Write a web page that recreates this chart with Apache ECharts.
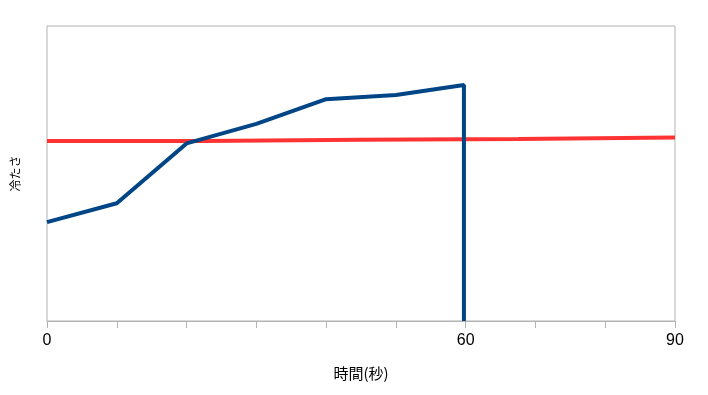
<!DOCTYPE html>
<html>
<head>
<meta charset="utf-8">
<script src="https://cdn.jsdelivr.net/npm/echarts@6/dist/echarts.min.js"></script>
<style>html,body{margin:0;padding:0;background:#fff}#c{width:708px;height:395px}</style>
</head>
<body>
<div id="c"></div>
<script>
// time (s) and "coldness" values
const blueX = [0, 10, 20, 30, 40, 50, 59.75, 59.75];
const blueY = [33.5, 39.9, 60.2, 66.8, 75.2, 76.6, 80.0, 0];
const redX = [0, 22.3, 45, 67.5, 90];
const redY = [61.0, 61.4, 61.7, 62.2, 62.2];
const xLabels = [0, 60, 90];

const chart = echarts.init(document.getElementById('c'));
chart.setOption({
  animation: false,
  backgroundColor: '#fff',
  grid: {left: 47, right: 33, top: 26, bottom: 74, show: true, borderColor: '#b3b3b3', borderWidth: 1},
  xAxis: {
    type: 'value', min: 0, max: 90, interval: 10,
    name: '時間(秒)', nameLocation: 'middle', nameGap: 45,
    nameTextStyle: {color: '#000', fontSize: 15, fontFamily: 'Noto Sans CJK JP'},
    axisLine: {show: true, lineStyle: {color: '#b3b3b3'}},
    axisTick: {show: true, length: 7, lineStyle: {color: '#b3b3b3'}},
    splitLine: {show: false},
    axisLabel: {
      color: '#000', fontSize: 16, fontFamily: 'Liberation Sans', margin: 12,
      formatter: v => xLabels.indexOf(v) >= 0 ? String(v) : ''
    }
  },
  yAxis: {
    type: 'value', min: 0, max: 100,
    name: '冷たさ', nameLocation: 'middle', nameGap: 26, nameRotate: 90,
    nameTextStyle: {color: '#000', fontSize: 12, fontFamily: 'Noto Sans CJK JP'},
    axisLine: {show: false}, axisTick: {show: false},
    axisLabel: {show: false}, splitLine: {show: false}
  },
  series: [
    {
      type: 'line', step: 'end', symbol: 'none',
      data: redX.map((x, i) => [x, redY[i]]),
      lineStyle: {color: '#ff3333', width: 4}
    },
    {
      type: 'line', symbol: 'none',
      data: blueX.map((x, i) => [x, blueY[i]]),
      lineStyle: {color: '#004586', width: 4}
    }
  ]
});
</script>
</body>
</html>
